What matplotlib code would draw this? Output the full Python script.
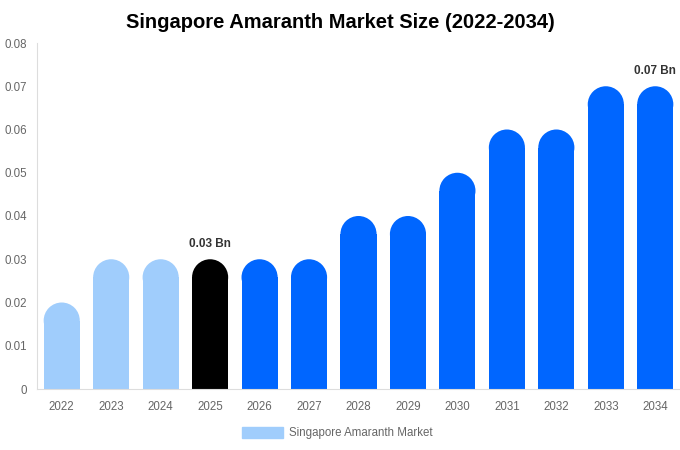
import matplotlib.pyplot as plt
from matplotlib.patches import Rectangle, Ellipse, Patch

plt.rcParams['font.family'] = ['Liberation Sans', 'DejaVu Sans']

years = ["2022", "2023", "2024", "2025", "2026", "2027", "2028",
         "2029", "2030", "2031", "2032", "2033", "2034"]
values = [0.02, 0.03, 0.03, 0.03, 0.03, 0.03, 0.04, 0.04, 0.05, 0.06, 0.06, 0.07, 0.07]
colors = ["#a0cdfc"] * 3 + ["#000000"] + ["#0066ff"] * 9
labels = {3: "0.03 Bn", 12: "0.07 Bn"}

fig = plt.figure(figsize=(6.8, 4.5), dpi=100)
ax = fig.add_axes([37 / 680, 1 - 389 / 450, 643 / 680, 346 / 450])

ymax = 0.08
ax.set_xlim(-0.5, len(years) - 0.5)
ax.set_ylim(0, ymax)

bw = 0.73
# radius of the rounded top in y data units so it is a circle on screen
ax_w_px = 643
ax_h_px = 346
r_px = bw / len(years) * ax_w_px / 2
r_y = r_px / ax_h_px * ymax

for i, (v, c) in enumerate(zip(values, colors)):
    ax.add_patch(Rectangle((i - bw / 2, 0), bw, v - r_y, color=c, lw=0))
    ax.add_patch(Ellipse((i, v - r_y), bw, 2 * r_y, color=c, lw=0))
    if i in labels:
        ax.annotate(labels[i], (i, v), xytext=(0, 7), textcoords="offset points",
                    ha="center", va="bottom", fontsize=8.5, fontweight="bold",
                    color="#333333")

ax.set_xticks(range(len(years)))
ax.set_xticklabels(years)
ax.set_yticks([0, 0.01, 0.02, 0.03, 0.04, 0.05, 0.06, 0.07, 0.08])
ax.set_yticklabels(["0", "0.01", "0.02", "0.03", "0.04", "0.05", "0.06", "0.07", "0.08"])
ax.tick_params(length=0, colors="#666666", labelsize=8.3)
ax.tick_params(axis="x", pad=9)
ax.tick_params(axis="y", pad=7)
for s in ["top", "right"]:
    ax.spines[s].set_visible(False)
for s in ["left", "bottom"]:
    ax.spines[s].set_color("#dddddd")
    ax.spines[s].set_linewidth(0.8)

fig.suptitle("Singapore Amaranth Market Size (2022-2034)", fontsize=14.5,
             fontweight="bold", y=0.97)

fig.legend(handles=[Patch(color="#a0cdfc", label="Singapore Amaranth Market")],
           loc="center", bbox_to_anchor=(0.496, 1 - 433 / 450), frameon=False,
           fontsize=8.3, labelcolor="#666666", handlelength=3.6, handleheight=1.1,
           handletextpad=0.5)

fig.savefig("out.png", dpi=100)
